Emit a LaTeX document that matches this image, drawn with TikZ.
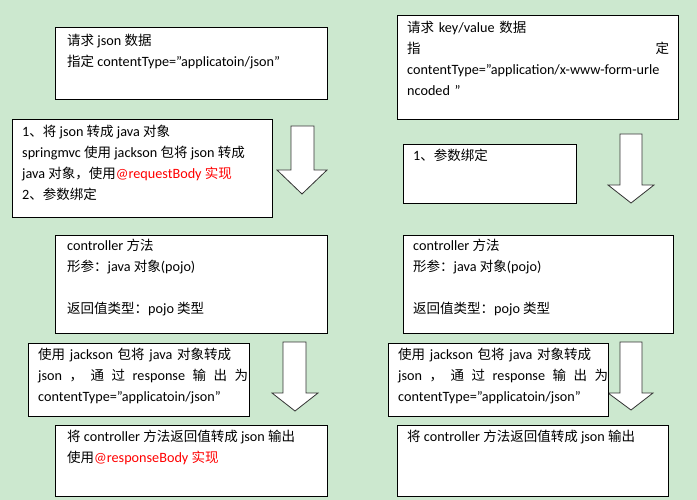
\documentclass[tikz,border=0pt]{standalone}
\usepackage{fontspec}
\setmainfont{Carlito}
\newfontfamily\cjk{Noto Sans CJK SC}
\newcommand\zh[1]{{\cjk\fontsize{13.5}{21}\selectfont #1}}
\begin{document}
\begin{tikzpicture}[x=1pt,y=-1pt,
  box/.style={draw=black,fill=white,line width=0.8pt},
  txt/.style={anchor=north west,align=left,inner sep=0pt,font=\fontsize{14.2}{21}\selectfont},
  arr/.style={draw=black!80,fill=white,line width=0.8pt}]
\definecolor{bg}{RGB}{204,232,207}
\fill[bg] (0,0) rectangle (697,500);
\useasboundingbox (0,0) rectangle (697,500);
% arrows
\draw[arr] (291,126)--(314,126)--(314,170)--(327,170)--(302,194)--(277,170)--(291,170)--cycle;
\draw[arr] (620,134)--(642,134)--(642,185)--(654,185)--(631,203)--(608,185)--(620,185)--cycle;
\draw[arr] (283,342)--(306,342)--(306,393)--(318,393)--(295,411)--(272,393)--(283,393)--cycle;
\draw[arr] (620,342)--(642,342)--(642,393)--(653,393)--(631,410)--(608,393)--(620,393)--cycle;
% boxes
\draw[box] (55,27) rectangle (327,99);
\node[txt] (l1) at (67,34) {\zh{请求} json \zh{数据}\\\zh{指定} contentType="applicatoin/json"};
\draw[box] (12,119) rectangle (272,217);
\node[txt] (l2) at (22,125) {1\zh{、将} json \zh{转成} java \zh{对象}\\springmvc \zh{使用} jackson \zh{包将} json \zh{转成}\\java \zh{对象，使用}\textcolor{red}{@requestBody \zh{实现}}\\2\zh{、参数绑定}};
\draw[box] (55,235) rectangle (327,333);
\node[txt] (l3) at (67,239) {controller \zh{方法}\\\zh{形参：}java \zh{对象}(pojo)\\[21pt]\zh{返回值类型：}pojo \zh{类型}};
\draw[box] (28,343) rectangle (249,416);
\node[txt,text width=210pt] (l4) at (38,348) {\zh{使用} jackson \zh{包将} java \zh{对象转成}\\json\hfill\zh{，}\hfill\zh{通}\hfill\zh{过}\hfill response\hfill\zh{输}\hfill\zh{出}\hfill\zh{为}\\contentType="applicatoin/json"};
\draw[box] (55,425) rectangle (327,496);
\node[txt] (l5) at (67,430) {\zh{将} controller \zh{方法返回值转成} json \zh{输出}\\\zh{使用}\textcolor{red}{@responseBody \zh{实现}}};
\draw[box] (397,15) rectangle (678,119);
\node[txt,text width=262pt] (r1) at (407,21) {\zh{请求} key/value \zh{数据}\\\zh{指}\hfill\zh{定}\\contentType="application/x-www-form-urle\\ncoded "};
\draw[box] (403,144) rectangle (576,203);
\node[txt] (r2) at (413,149) {1\zh{、参数绑定}};
\draw[box] (403,235) rectangle (673,333);
\node[txt] (r3) at (413,239) {controller \zh{方法}\\\zh{形参：}java \zh{对象}(pojo)\\[21pt]\zh{返回值类型：}pojo \zh{类型}};
\draw[box] (388,343) rectangle (608,416);
\node[txt,text width=210pt] (r4) at (398,348) {\zh{使用} jackson \zh{包将} java \zh{对象转成}\\json\hfill\zh{，}\hfill\zh{通}\hfill\zh{过}\hfill response\hfill\zh{输}\hfill\zh{出}\hfill\zh{为}\\contentType="applicatoin/json"};
\draw[box] (397,425) rectangle (668,496);
\node[txt] (r5) at (407,430) {\zh{将} controller \zh{方法返回值转成} json \zh{输出}};
\end{tikzpicture}
\end{document}
